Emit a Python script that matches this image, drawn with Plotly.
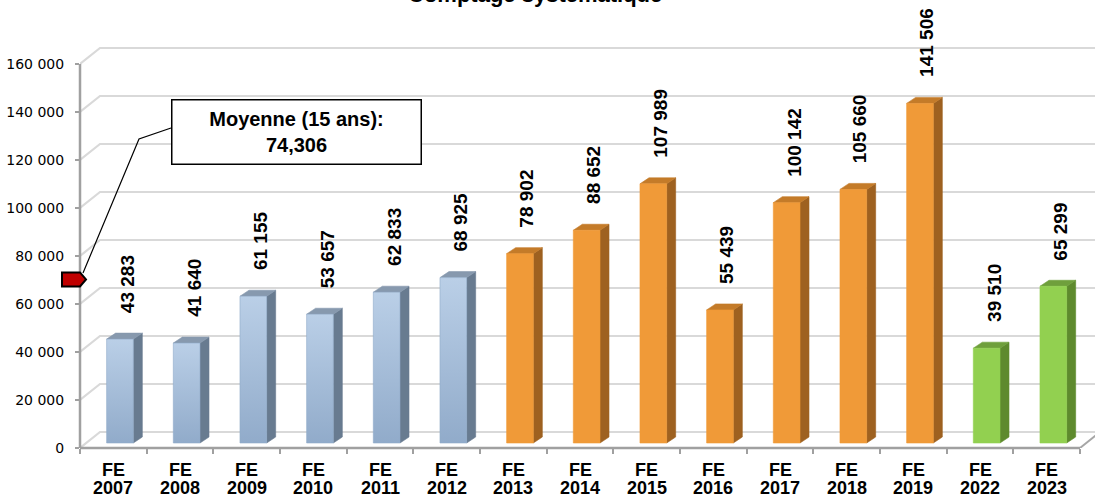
import plotly.graph_objects as go

# ---------------- data ----------------
title_text = "Comptage systématique"
prefixes = ["FE"] * 15
years = ["2007", "2008", "2009", "2010", "2011", "2012", "2013", "2014",
         "2015", "2016", "2017", "2018", "2019", "2022", "2023"]
values = [43283, 41640, 61155, 53657, 62833, 68925, 78902, 88652,
          107989, 55439, 100142, 105660, 141506, 39510, 65299]
groups = ["bleu"] * 6 + ["orange"] * 7 + ["vert"] * 2
y_tick_vals = [0, 20000, 40000, 60000, 80000, 100000, 120000, 140000, 160000]
y_tick_text = ["0", "20 000", "40 000", "60 000", "80 000", "100 000",
               "120 000", "140 000", "160 000"]
mean_label = "Moyenne (15 ans):"

palette = {
    "bleu":   dict(front_bottom="#91abca", front_top="#bacfe7", side="#687b90", top="#8799ae"),
    "orange": dict(front_bottom="#f09a38", front_top="#f09a38", side="#9e6120", top="#c47b29"),
    "vert":   dict(front_bottom="#92d050", front_top="#92d050", side="#5e8a2e", top="#6f9f3c"),
}

# ---------------- geometry (pixel based 3D look) ----------------
W, H = 1095, 498
ML, MR, MT, MB = 80, 0, 0, 50
plot_w = W - ML - MR
plot_h = H - MT - MB
CAT_PX = 1000 / 15.0                      # pixels per category
X_PER_PX = 1.0 / CAT_PX
Y_PER_PX = 160000 / 384.0
x_range = [-0.5, -0.5 + plot_w * X_PER_PX]
y_range = [0, plot_h * Y_PER_PX]

BAR_L, BAR_R = -6.7, 20.0                 # front face edges rel. to category centre (px)
BAR_BASE = 5.0                            # bar bottom above front floor (px)
DEPTH_X, DEPTH_Y = 9.0, 6.0               # bar depth (px)
WALL_X, WALL_Y = 20.0, 16.0               # back wall offset (px)
LABEL_X, LABEL_GAP = 13.7, 18.0
MARKER_SHIFT = 9.8                        # depth shift of the mean marker (px)

dxb = DEPTH_X * X_PER_PX
dyb = DEPTH_Y * Y_PER_PX
dxw = WALL_X * X_PER_PX
dyw = WALL_Y * Y_PER_PX
base = BAR_BASE * Y_PER_PX
n = len(values)
mean_val = sum(values) / n

def px2x(px):
    return (px - ML) * X_PER_PX - 0.5

def py2y(py):
    return (MT + plot_h - py) * Y_PER_PX

fig = go.Figure()

for i, (v, g) in enumerate(zip(values, groups)):
    c = palette[g]
    xl = i + BAR_L * X_PER_PX
    xr = i + BAR_R * X_PER_PX
    top = base + v
    # side face
    fig.add_trace(go.Scatter(
        x=[xr, xr + dxb, xr + dxb, xr, xr],
        y=[base, base + dyb, top + dyb, top, base],
        fill="toself", fillcolor=c["side"], mode="lines",
        line=dict(width=0.6, color=c["side"]), hoverinfo="skip", showlegend=False))
    # top face
    fig.add_trace(go.Scatter(
        x=[xl, xl + dxb, xr + dxb, xr, xl],
        y=[top, top + dyb, top + dyb, top, top],
        fill="toself", fillcolor=c["top"], mode="lines",
        line=dict(width=0.6, color=c["top"]), hoverinfo="skip", showlegend=False))
    # front face
    fig.add_trace(go.Scatter(
        x=[xl, xr, xr, xl, xl],
        y=[base, base, top, top, base],
        fill="toself", mode="lines",
        fillgradient=dict(type="vertical",
                          colorscale=[[0, c["front_bottom"]], [1, c["front_top"]]]),
        line=dict(width=0.6, color=c["front_bottom"]),
        name=f"{prefixes[i]} {years[i]}", hoverinfo="skip", showlegend=False))

shapes = []
grid_col = "#d9d9d9"
x_end = x_range[1] + 1
for t in y_tick_vals:
    shapes.append(dict(type="path", layer="below", xref="x", yref="y",
                       path=f"M {-0.5} {t} L {-0.5 + dxw} {t + dyw} L {x_end} {t + dyw}",
                       line=dict(color=grid_col, width=2.2)))
# floor right edge
shapes.append(dict(type="line", xref="x", yref="y", layer="below",
                   x0=n - 0.5, y0=0, x1=n - 0.5 + dxw, y1=dyw,
                   line=dict(color="#a6a6a6", width=2)))
# front floor edge (x axis line)
shapes.append(dict(type="line", xref="x", yref="paper",
                   x0=-0.5, y0=0, x1=n - 0.5, y1=0,
                   line=dict(color="#a0a0a0", width=2.5)))
# y axis line
shapes.append(dict(type="line", xref="paper", yref="y",
                   x0=0, y0=0, x1=0, y1=y_tick_vals[-1],
                   line=dict(color="#a0a0a0", width=2.5)))
# leader line of the callout
shapes.append(dict(type="path", xref="x", yref="y",
                   path=f"M {px2x(83)} {py2y(273)} L {px2x(139)} {py2y(139)} L {px2x(171)} {py2y(128)}",
                   line=dict(color="black", width=1.2)))
# red mean marker on the axis
shapes.append(dict(type="path", xref="paper", yref="y",
                   xsizemode="pixel", ysizemode="pixel",
                   xanchor=0, yanchor=mean_val - MARKER_SHIFT * Y_PER_PX,
                   path="M -18 -7 L 0 -7 L 6 0 L 0 7 L -18 7 Z",
                   fillcolor="#c00000", line=dict(color="black", width=2)))

annotations = []
for i, v in enumerate(values):
    annotations.append(dict(
        x=i + LABEL_X * X_PER_PX, y=base + v + dyb + LABEL_GAP * Y_PER_PX,
        xref="x", yref="y", text=f"{v:,}".replace(",", " "),
        textangle=-90, xanchor="center", yanchor="bottom", showarrow=False,
        font=dict(family="Liberation Sans, Arial", size=19, color="black", weight="bold")))
    annotations.append(dict(
        x=i, y=0, xref="x", yref="paper", text=f"<b>{prefixes[i]}</b>",
        yshift=-21.5, xanchor="center", yanchor="middle", showarrow=False, borderpad=0,
        font=dict(family="Liberation Sans, Arial", size=18, color="black")))
    annotations.append(dict(
        x=i, y=0, xref="x", yref="paper", text=f"<b>{years[i]}</b>",
        yshift=-39.5, xanchor="center", yanchor="middle", showarrow=False, borderpad=0,
        font=dict(family="Liberation Sans, Arial", size=18, color="black")))

annotations.append(dict(
    x=px2x(296), y=py2y(131.5), xref="x", yref="y",
    text=f"<b>{mean_label}<br>{mean_val:,.0f}</b>",
    showarrow=False, bgcolor="white", bordercolor="black", borderwidth=1.5,
    borderpad=2, width=244, height=59, xanchor="center", yanchor="middle",
    font=dict(family="Liberation Sans, Arial", size=20, color="black")))

annotations.append(dict(
    x=(535 - ML) / plot_w, y=1, xref="paper", yref="paper",
    text=f"<b>{title_text}</b>", showarrow=False, xanchor="center", yanchor="bottom",
    yshift=-9, font=dict(family="Liberation Sans, Arial", size=22, color="black")))

fig.update_layout(
    width=W, height=H,
    margin=dict(l=ML, r=MR, t=MT, b=MB, pad=0),
    paper_bgcolor="white", plot_bgcolor="white",
    shapes=shapes, annotations=annotations,
    xaxis=dict(range=x_range, showgrid=False, zeroline=False, showline=False,
               tickvals=list(range(n)), ticktext=[""] * n, ticks="",
               minor=dict(tickvals=[k - 0.5 for k in range(n + 1)], ticks="outside",
                          ticklen=5, tickwidth=1.5, tickcolor="#a0a0a0", showgrid=False),
               fixedrange=True),
    yaxis=dict(range=y_range, showgrid=False, zeroline=False, showline=False,
               tickvals=y_tick_vals, ticktext=y_tick_text, ticks="outside",
               ticklen=4, tickwidth=1.5, tickcolor="#a0a0a0", ticklabelstandoff=8,
               tickfont=dict(family="DejaVu Sans", size=14, color="black"),
               fixedrange=True),
)

fig.write_html("out.html", config={"displayModeBar": False},
               post_script="document.body.style.margin='0';")
